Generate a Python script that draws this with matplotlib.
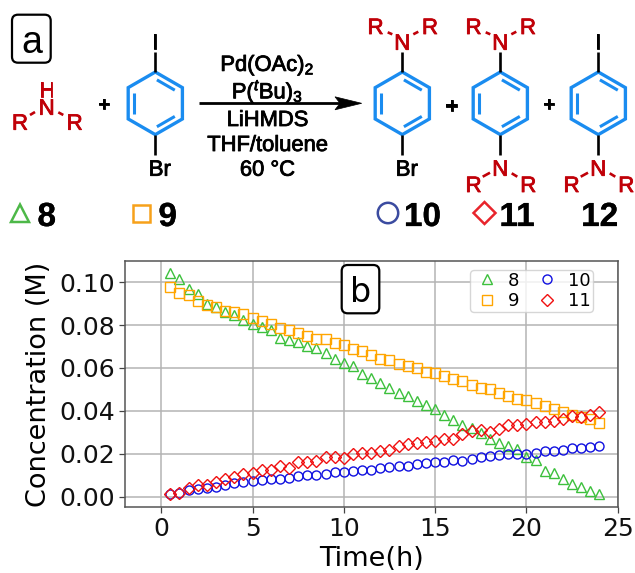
import numpy as np
import matplotlib
matplotlib.use('Agg')
import matplotlib.pyplot as plt
from matplotlib.patches import FancyBboxPatch, Polygon, Rectangle, Circle
import matplotlib.patheffects as pe

plt.rcParams['mathtext.fontset'] = 'custom'
plt.rcParams['mathtext.rm'] = 'Liberation Sans'
plt.rcParams['mathtext.it'] = 'Liberation Sans:italic'

time_h = [0.5 * i for i in range(1, 49)]
s8 = [.1042,.1016,.0969,.0946,.0899,.0883,.0863,.0848,.0824,.0804,.0793,.0779,.0742,.0731,.0720,.0703,.0692,.0672,.0642,.0622,.0610,.0574,.0552,
      .0532,.0505,.0485,.0470,.0446,.0428,.0407,.0379,.0359,.0333,.0319,.0295,.0267,.0252,.0238,.0222,.0187,.0171,.0121,.0109,.0082,.0058,.0045,.0026,.0014]
s9 = [.0978,.0949,.0938,.0914,.0894,.0885,.0866,.0863,.0851,.0832,.0820,.0804,.0788,.0778,.0765,.0748,.0736,.0733,.0715,.0705,.0687,.0680,.0661,
      .0644,.0636,.0617,.0607,.0599,.0583,.0577,.0563,.0549,.0540,.0521,.0507,.0501,.0484,.0470,.0457,.0449,.0437,.0421,.0409,.0395,.0381,.0370,.0362,.0342]
s10 = [.0014,.0019,.0030,.0034,.0040,.0047,.0056,.0062,.0067,.0073,.0078,.0082,.0084,.0089,.0095,.0100,.0103,.0107,.0114,.0117,.0120,.0123,.0126,
       .0135,.0140,.0143,.0144,.0151,.0156,.0160,.0163,.0170,.0168,.0177,.0183,.0190,.0194,.0201,.0199,.0199,.0205,.0213,.0213,.0218,.0225,.0229,.0230,.0235]
s11 = [.0011,.0019,.0039,.0054,.0054,.0067,.0082,.0093,.0107,.0109,.0124,.0124,.0143,.0135,.0163,.0163,.0166,.0187,.0183,.0179,.0199,.0202,.0202,
       .0212,.0218,.0235,.0246,.0250,.0255,.0261,.0269,.0269,.0291,.0306,.0309,.0303,.0314,.0336,.0336,.0339,.0347,.0348,.0355,.0364,.0375,.0372,.0379,.0395]
x_ticks = [0, 5, 10, 15, 20, 25]
y_ticks = [0.00, 0.02, 0.04, 0.06, 0.08, 0.10]

W, H = 635, 573
fig = plt.figure(figsize=(W / 100, H / 100), dpi=100)
L, R_, T, B = 124.7, 617.7, 260.7, 507.3
ax = fig.add_axes([L / W, 1 - B / H, (R_ - L) / W, (B - T) / H])
GREEN, ORANGE = '#3cc03c', '#ffa500'
MS = 6.5
ax.plot(time_h, s8, '^', color=GREEN, mfc='none', ms=MS, mew=1.0, label='8')
ax.plot(time_h, s9, 's', color=ORANGE, mfc='none', ms=MS, mew=1.0, label='9')
ax.plot(time_h, s10, 'o', color='#1010e0', mfc='none', ms=MS, mew=1.0, label='10')
ax.plot(time_h, s11, 'D', color='#f01010', mfc='none', ms=MS, mew=1.0, label='11')
ax.set_xlim(-2, 25)
ax.set_ylim(-0.00494, 0.11)
ax.set_xticks(x_ticks)
ax.set_yticks(y_ticks)
ax.set_yticklabels([f'{v:.2f}' for v in y_ticks])
ax.tick_params(labelsize=18, length=4, width=0.9, color='#444444', labelcolor='#111111', pad=3)
ax.grid(True, color='#b4b4b4', lw=1.1)
ax.set_axisbelow(True)
for s in ax.spines.values():
    s.set_color('#555555')
    s.set_linewidth(1.1)
ax.set_xlabel('Time(h)', fontsize=19.5, labelpad=3.5)
ax.set_ylabel('Concentration (M)', fontsize=19.5, labelpad=5)
leg = ax.legend(ncol=2, fontsize=13, loc='upper left',
                bbox_to_anchor=(470 / W, 1 - 270 / H), bbox_transform=fig.transFigure,
                borderaxespad=0, labelspacing=0.12, columnspacing=0.7, handletextpad=0.3,
                handlelength=1.7, borderpad=0.1)

# Reaction scheme overlay, in pixel coordinates
ov = fig.add_axes([0, 0, 1, 1], zorder=5)
ov.set_xlim(0, W)
ov.set_ylim(H, 0)
ov.axis('off')
ov.patch.set_alpha(0)

BLUE = '#1a8cf0'
DRED = '#c00008'
SANS = 'Liberation Sans'
RAD = 31.3
RY = 103.3

def txt(x, y, s, size=15.5, color='k', weight='normal', stroke=0.6):
    t = ov.text(x, y, s, fontsize=size, color=color, family=SANS, weight=weight,
                ha='center', va='center_baseline')
    if stroke:
        t.set_path_effects([pe.withStroke(linewidth=stroke, foreground=color)])
    return t

def bond(x0, y0, x1, y1, color='k', lw=1.9):
    ov.plot([x0, x1], [y0, y1], color=color, lw=lw, solid_capstyle='butt')

def ring(cx):
    ang = np.deg2rad(np.arange(-90, 270, 60))
    xs, ys = cx + RAD * np.cos(ang), RY + RAD * np.sin(ang)
    ov.add_patch(Polygon(np.c_[xs, ys], closed=True, fill=False, ec=BLUE, lw=2.4, joinstyle='miter'))
    for i in (0, 2, 4):
        a, b = np.array([xs[i], ys[i]]), np.array([xs[i + 1], ys[i + 1]])
        c = np.array([cx, RY])
        m = (a + b) / 2
        n = (c - m) / np.linalg.norm(c - m)
        p0 = a + (b - a) * 0.17 + n * 6.0
        p1 = a + (b - a) * 0.83 + n * 6.0
        bond(p0[0], p0[1], p1[0], p1[1], BLUE, 2.2)

def iodo_top(cx):
    txt(cx, 41, 'I', 16)
    bond(cx, 52, cx, RY - RAD)

def bromo_bottom(cx):
    bond(cx, RY + RAD, cx, 155)
    txt(cx + 4.5, 167.7, 'Br', 16)

def amine_top(cx):
    bond(cx, 51.7, cx, RY - RAD)
    txt(cx, 41.7, 'N', 16, DRED)
    txt(cx - 26.7, 26, 'R', 16, DRED)
    txt(cx + 27.7, 26, 'R', 16, DRED)
    bond(cx - 14.6, 32.3, cx - 10, 34.3, DRED)
    bond(cx + 11, 34.3, cx + 16, 31.7, DRED)

def amine_bottom(cx):
    bond(cx, RY + RAD, cx, 155)
    txt(cx, 167.7, 'N', 16, DRED)
    txt(cx - 26.7, 184, 'R', 16, DRED)
    txt(cx + 28, 184, 'R', 16, DRED)
    bond(cx - 17.6, 176.7, cx - 10.3, 172.7, DRED)
    bond(cx + 11.4, 173.3, cx + 17, 176.7, DRED)

# label boxes
def label_box(x0, y0, x1, y1, s, size, family):
    ov.add_patch(FancyBboxPatch((x0 + 5, y0 + 5), x1 - x0 - 10, y1 - y0 - 10,
                                boxstyle='round,pad=5,rounding_size=6', fc='white', ec='k', lw=1.6, zorder=6))
    ov.text((x0 + x1) / 2, (y0 + y1) / 2, s, fontsize=size, family=family,
            ha='center', va='center_baseline', zorder=7)

label_box(12, 14.7, 50.7, 62.7, 'a', 27, SANS)
label_box(341.7, 265, 379.3, 313.3, 'b', 24, 'DejaVu Sans')

# starting amine
txt(46.7, 89, 'H', 15, DRED)
txt(46.7, 106.7, 'N', 16, DRED)
txt(20, 121.7, 'R', 16, DRED)
txt(74.7, 121.7, 'R', 16, DRED)
bond(30, 115, 35, 112, DRED)
bond(58.3, 112.3, 63.3, 115, DRED)
txt(104, 103.3, '+', 15, weight='bold')

# aryl halide
ring(155.3)
iodo_top(155.3)
bromo_bottom(155.3)

# reagents and arrow
RX = 267.5
txt(RX, 62, r'Pd(OAc)$_2$', 15.8)
txt(RX, 88, r'P($^t$Bu)$_3$', 15.8)
txt(RX, 118, 'LiHMDS', 15.8)
txt(RX, 143, 'THF/toluene', 15.8)
txt(RX, 167.7, '60 °C', 15.8)
bond(199.3, RY, 340, RY, 'k', 2.0)
ov.add_patch(Polygon([(361.7, RY), (335, RY - 6.5), (340, RY), (335, RY + 6.5)], closed=True, fc='k', ec='k', lw=0.5))

# products
ring(402.3); amine_top(402.3); bromo_bottom(402.3)
txt(451.7, 105, '+', 15, weight='bold')
ring(500.3); amine_top(500.3); amine_bottom(500.3)
txt(549.3, 103.3, '+', 15, weight='bold')
ring(598.3); iodo_top(598.3); amine_bottom(598.3)

# compound key
MY = 213
KW = 1.8
ov.add_patch(Polygon([(11, 222), (29, 222), (20, 204.5)], closed=True, fill=False, ec='#4db848', lw=KW))
ov.add_patch(Rectangle((132.5, 204.5), 17.5, 17.5, fill=False, ec='#f7a11a', lw=KW))
ov.add_patch(Circle((388, MY), 10.2, fill=False, ec='#3b4ba0', lw=KW))
ov.add_patch(Polygon([(484.5, 202), (495.5, MY), (484.5, 224), (473.5, MY)], closed=True, fill=False, ec='#e8242c', lw=KW))
for x, s in [(46.7, '8'), (167.7, '9'), (422.5, '10'), (517, '11'), (599.7, '12')]:
    txt(x, 214, s, 24, weight='bold', stroke=0.2)

fig.savefig('out.png', dpi=100)
